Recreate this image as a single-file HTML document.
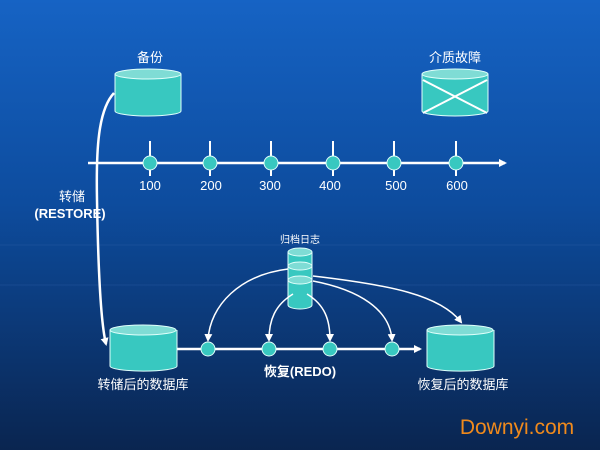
<!DOCTYPE html>
<html><head><meta charset="utf-8"><style>
body{margin:0;width:600px;height:450px;overflow:hidden;}
svg{display:block;font-family:"Liberation Sans","Noto Sans CJK SC",sans-serif;}
</style></head><body>
<svg width="600" height="450" viewBox="0 0 600 450">
<defs>
<linearGradient id="bg" x1="0" y1="0" x2="0" y2="1">
<stop offset="0" stop-color="#1663c4"/><stop offset="0.45" stop-color="#0d4c9e"/><stop offset="1" stop-color="#0a2550"/>
</linearGradient>
<marker id="ah" markerWidth="8" markerHeight="8" refX="6" refY="4" orient="auto" markerUnits="userSpaceOnUse"><path d="M0,0 L8,4 L0,8 Z" fill="#fff"/></marker>
</defs>
<rect width="600" height="450" fill="url(#bg)"/>
<g stroke="#3a6fb0" stroke-width="0.6" opacity="0.5">
<line x1="0" y1="245" x2="600" y2="245"/><line x1="0" y1="285" x2="600" y2="285"/>
</g>
<g fill="#fff" font-size="13" text-anchor="middle">
<text x="150" y="62">备份</text>
<text x="455" y="62">介质故障</text>
<text x="72" y="201">转储</text>
<text x="70" y="218" font-weight="bold">(RESTORE)</text>
<text x="300" y="243" font-size="10">归档日志</text>
<text x="300" y="376" font-weight="bold">恢复(REDO)</text>
<text x="143" y="389">转储后的数据库</text>
<text x="463" y="389">恢复后的数据库</text>
<g font-size="13"><text x="150" y="190">100</text><text x="211" y="190">200</text><text x="270" y="190">300</text><text x="330" y="190">400</text><text x="396" y="190">500</text><text x="457" y="190">600</text></g>
</g>
<!-- cylinders -->
<g fill="#38c8c0" stroke="#e0fffb" stroke-width="1">
<path d="M115,74 L115,111 A33,5 0 0 0 181,111 L181,74"/><ellipse cx="148" cy="74" rx="33" ry="5" fill="#7fdcd5"/>
<path d="M422,74 L422,111 A33,5 0 0 0 488,111 L488,74"/><ellipse cx="455" cy="74" rx="33" ry="5" fill="#7fdcd5"/>
<path d="M110,330 L110,366 A33,5 0 0 0 177,366 L177,330"/><ellipse cx="143" cy="330" rx="33" ry="5" fill="#7fdcd5"/>
<path d="M427,330 L427,366 A33,5 0 0 0 494,366 L494,330"/><ellipse cx="460" cy="330" rx="33" ry="5" fill="#7fdcd5"/>
<path d="M288,252 L288,305 A12,4 0 0 0 312,305 L312,252"/>
<ellipse cx="300" cy="252" rx="12" ry="4" fill="#7fdcd5"/>
<ellipse cx="300" cy="266" rx="12" ry="4" fill="#7fdcd5"/>
<ellipse cx="300" cy="280" rx="12" ry="4" fill="#7fdcd5"/>
</g>
<g stroke="#fff" stroke-width="2"><line x1="423" y1="80" x2="487" y2="113"/><line x1="487" y1="80" x2="423" y2="113"/></g>
<!-- timeline -->
<g stroke="#fff" stroke-width="2.5" fill="none">
<line x1="88" y1="163" x2="505" y2="163" marker-end="url(#ah)"/>
<g stroke-width="2"><line x1="150" y1="141" x2="150" y2="176"/><line x1="210" y1="141" x2="210" y2="176"/><line x1="271" y1="141" x2="271" y2="176"/><line x1="333" y1="141" x2="333" y2="176"/><line x1="394" y1="141" x2="394" y2="176"/><line x1="456" y1="141" x2="456" y2="176"/></g>
<line x1="177" y1="349" x2="420" y2="349" marker-end="url(#ah)"/>
<path d="M114,93 C98,110 96,150 97,200 C98,260 100,320 106,344" marker-end="url(#ah)"/>
<g stroke-width="1.5">
<path d="M288,269 C240,275 210,305 208,340" marker-end="url(#ah)"/>
<path d="M293,294 C275,305 269,320 269,340" marker-end="url(#ah)"/>
<path d="M307,294 C325,305 330,320 330,340" marker-end="url(#ah)"/>
<path d="M313,281 C360,290 390,310 392,340" marker-end="url(#ah)"/>
<path d="M313,276 C390,285 440,295 461,322" marker-end="url(#ah)"/>
</g>
</g>
<g fill="#38c8c0" stroke="#e0fffb" stroke-width="1">
<circle cx="150" cy="163" r="7"/><circle cx="210" cy="163" r="7"/><circle cx="271" cy="163" r="7"/><circle cx="333" cy="163" r="7"/><circle cx="394" cy="163" r="7"/><circle cx="456" cy="163" r="7"/>
<circle cx="208" cy="349" r="7"/><circle cx="269" cy="349" r="7"/><circle cx="330" cy="349" r="7"/><circle cx="392" cy="349" r="7"/>
</g>
<text x="517" y="434" font-size="21" fill="#f08a1c" text-anchor="middle">Downyi.com</text>
</svg>
</body></html>
